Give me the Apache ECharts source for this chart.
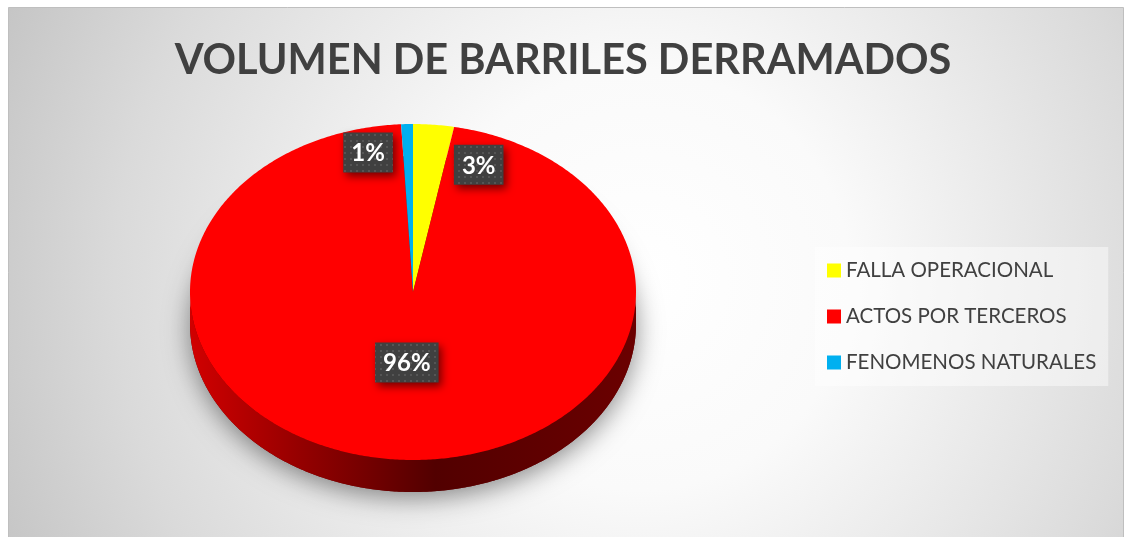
<!DOCTYPE html>
<html><head><meta charset="utf-8">
<script src="https://cdn.jsdelivr.net/npm/echarts@6/dist/echarts.min.js"></script>
<style>html,body{margin:0;padding:0;background:#fff}#c{width:1126px;height:537px}</style>
</head><body><div id="c"></div>
<script>
const chartTitle = 'VOLUMEN DE BARRILES DERRAMADOS';
const categories = ['FALLA OPERACIONAL', 'ACTOS POR TERCEROS', 'FENOMENOS NATURALES'];
const values = [2.95, 96.2, 0.85];
const colors = ['#ffff00', '#ff0000', '#00b0f0'];

const PIE = {cx: 413, cy: 292, rx: 223, ry: 168, depth: 32};
const total = values.reduce((a, b) => a + b, 0);

function pt(theta, f, dy) {
  return [PIE.cx + PIE.rx * f * Math.sin(theta), PIE.cy - PIE.ry * f * Math.cos(theta) + (dy || 0)];
}
function arcPts(a0, a1, dy) {
  const n = Math.max(2, Math.ceil((a1 - a0) / 0.01));
  const out = [];
  for (let i = 0; i <= n; i++) out.push(pt(a0 + (a1 - a0) * i / n, 1, dy));
  return out;
}
function rgb(hex) {
  const h = hex.replace('#', '');
  return [parseInt(h.substr(0, 2), 16), parseInt(h.substr(2, 2), 16), parseInt(h.substr(4, 2), 16)];
}
function shade(hex, k) {
  const c = rgb(hex);
  return 'rgb(' + Math.round(c[0] * k) + ',' + Math.round(c[1] * k) + ',' + Math.round(c[2] * k) + ')';
}
function sideGrad(col) {
  return {type: 'linear', global: true, x: PIE.cx - PIE.rx, y: 0, x2: PIE.cx + PIE.rx, y2: 0,
    colorStops: [
      {offset: 0, color: shade(col, 0.82)},
      {offset: 0.25, color: shade(col, 0.58)},
      {offset: 0.55, color: shade(col, 0.32)},
      {offset: 1, color: shade(col, 0.42)}
    ]};
}

// dotted pattern for label boxes
const pat = document.createElement('canvas');
pat.width = 6; pat.height = 6;
const pc = pat.getContext('2d');
pc.fillStyle = '#404040'; pc.fillRect(0, 0, 6, 6);
pc.fillStyle = '#555555'; pc.fillRect(2, 2, 2, 2);

const LABEL_FONT = 'bold 24px Lato';
const mctx = document.createElement('canvas').getContext('2d');
function textW(t) { mctx.font = LABEL_FONT; return mctx.measureText(t).width; }

function renderSlice(params, api) {
  const i = params.seriesIndex;
  let s = 0;
  for (let k = 0; k < i; k++) s += values[k];
  const a0 = s / total * 2 * Math.PI;
  const a1 = (s + values[i]) / total * 2 * Math.PI;
  const col = colors[i];
  const children = [];
  // bottom face with shadow
  const bottom = [[PIE.cx, PIE.cy + PIE.depth]].concat(arcPts(a0, a1, PIE.depth));
  children.push({type: 'polygon', z2: 1, shape: {points: bottom},
    style: {fill: shade(col, 0.4), shadowBlur: 26, shadowColor: 'rgba(0,0,0,0.45)', shadowOffsetY: 6}});
  // front side
  const s0 = Math.max(a0, Math.PI / 2), s1 = Math.min(a1, 1.5 * Math.PI);
  if (s1 > s0) {
    const top = arcPts(s0, s1, 0), bot = arcPts(s0, s1, PIE.depth).reverse();
    children.push({type: 'polygon', z2: 2, shape: {points: top.concat(bot)}, style: {fill: sideGrad(col)}});
  }
  // top face
  const topPts = [[PIE.cx, PIE.cy]].concat(arcPts(a0, a1, 0));
  children.push({type: 'polygon', z2: 3, shape: {points: topPts}, style: {fill: col}});
  // label
  const share = values[i] / total;
  const txt = Math.round(share * 100) + '%';
  const mid = (a0 + a1) / 2;
  let p;
  if (share > 0.1) {
    p = pt(mid, 0.42, 0);
  } else {
    const right = Math.sin(mid) >= 0;
    p = pt(mid, right ? 0.76 : 0.83, 0);
    p[0] += right ? 50 : -40;
  }
  const w = textW(txt) + 16, h = 40;
  children.push({type: 'rect', z2: 10, shape: {x: p[0] - w / 2, y: p[1] - h / 2, width: w, height: h},
    style: {fill: {type: 'pattern', image: pat, repeat: 'repeat'}, shadowBlur: 8, shadowColor: 'rgba(0,0,0,0.55)', shadowOffsetX: 3, shadowOffsetY: 4}});
  children.push({type: 'text', z2: 11, style: {text: txt, x: p[0], y: p[1] + 1, align: 'center', verticalAlign: 'middle',
    textAlign: 'center', textVerticalAlign: 'middle', fill: '#ffffff', font: LABEL_FONT}});
  return {type: 'group', children: children};
}

const chart = echarts.init(document.getElementById('c'), null, {renderer: 'canvas'});
chart.setOption({
  animation: false,
  graphic: [{
    type: 'rect', z: -10, silent: true,
    shape: {x: 8.5, y: 7.5, width: 1115, height: 535},
    style: {
      fill: {type: 'radial', global: true, x: 640, y: 280, r: 700,
        colorStops: [{offset: 0, color: '#ffffff'}, {offset: 0.3, color: '#fafafa'}, {offset: 0.75, color: '#dadada'}, {offset: 1, color: '#c4c4c4'}]},
      stroke: '#bfbfbf', lineWidth: 1
    }
  }],
  title: {
    text: chartTitle, left: 'center', top: 35,
    textStyle: {fontFamily: 'Lato', fontWeight: 'bold', fontSize: 41.5, color: '#404040'}
  },
  legend: {
    orient: 'vertical', left: 815, top: 247, padding: [13, 12, 13, 12],
    backgroundColor: 'rgba(255,255,255,0.45)',
    itemWidth: 14, itemHeight: 14, itemGap: 25, icon: 'rect', selectedMode: false,
    data: categories,
    textStyle: {fontFamily: 'Lato', fontSize: 20.5, color: '#404040', lineHeight: 20}
  },
  series: categories.map((name, i) => ({
    type: 'custom', name: name, coordinateSystem: 'none', silent: true,
    itemStyle: {color: colors[i]}, data: [values[i]], renderItem: renderSlice
  }))
});
</script></body></html>
